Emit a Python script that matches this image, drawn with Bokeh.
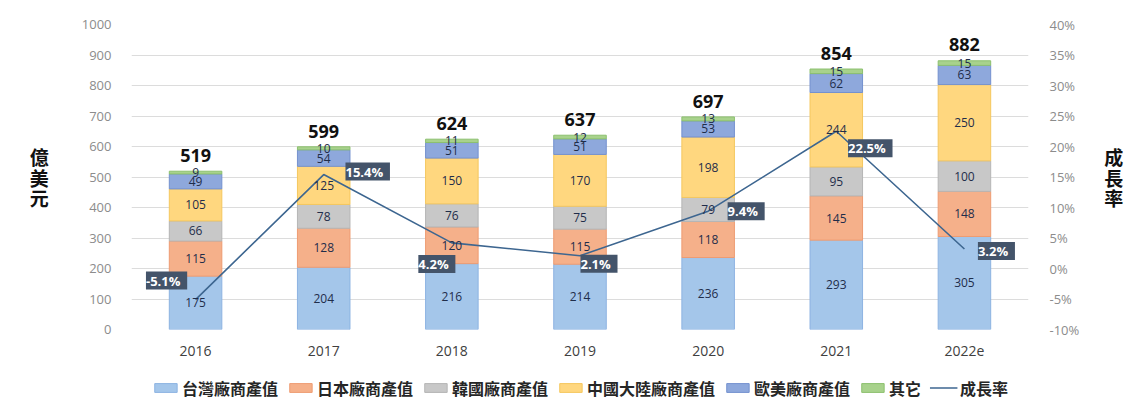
import numpy as np
from bokeh.plotting import figure
from bokeh.layouts import column
from bokeh.models import (ColumnDataSource, Range1d, LinearAxis, LabelSet,
                          Legend, LegendItem, PrintfTickFormatter, FixedTicker)
from bokeh.core.properties import value
from bokeh.embed import file_html
from bokeh.resources import INLINE

years = ["2016", "2017", "2018", "2019", "2020", "2021", "2022e"]
taiwan = [175, 204, 216, 214, 236, 293, 305]
japan = [115, 128, 120, 115, 118, 145, 148]
korea = [66, 78, 76, 75, 79, 95, 100]
china = [105, 125, 150, 170, 198, 244, 250]
euus = [49, 54, 51, 51, 53, 62, 63]
other = [9, 10, 11, 12, 13, 15, 15]
totals = [519, 599, 624, 637, 697, 854, 882]
growth = [-5.1, 15.4, 4.2, 2.1, 9.4, 22.5, 3.2]

series_names = ["台灣廠商產值", "日本廠商產值", "韓國廠商產值", "中國大陸廠商產值", "歐美廠商產值", "其它"]
series_vals = [taiwan, japan, korea, china, euus, other]
colors = ["#A4C6EA", "#F5B08A", "#C8C8C8", "#FFD77F", "#8EA8DC", "#A8D28C"]
edge_colors = ["#8DB3E2", "#EE9C72", "#B5B5B5", "#F5C75E", "#7491CF", "#8CC06E"]
line_color = "#3D6690"

CJK = "Noto Sans CJK TC"
NUM = "Open Sans"

p = figure(x_range=years, y_range=Range1d(0, 1000), width=1133, height=370,
           output_backend="svg", toolbar_location=None,
           min_border_left=131, min_border_right=105, min_border_top=24, min_border_bottom=41)
p.outline_line_color = None
p.background_fill_color = "white"
p.border_fill_color = "white"

keys = ["s%d" % i for i in range(len(series_vals))]
data = {"x": years}
for k, v in zip(keys, series_vals):
    data[k] = v
src = ColumnDataSource(data)
renderers = p.vbar_stack(keys, x="x", width=0.41, source=src, fill_color=colors,
                         line_color=edge_colors, line_width=1)

# segment labels
arr = np.array(series_vals, dtype=float)
cum = np.cumsum(arr, axis=0)
for i, k in enumerate(keys):
    mids = cum[i] - arr[i] / 2.0
    s = ColumnDataSource(dict(x=years, y=mids, t=[str(v) for v in series_vals[i]]))
    p.add_layout(LabelSet(x="x", y="y", text="t", source=s, text_align="center",
                          text_baseline="middle", text_font_size="12px",
                          text_font=value(NUM), text_color="#1F2D4A"))

# totals
ts = ColumnDataSource(dict(x=years, y=totals, t=[str(v) for v in totals]))
p.add_layout(LabelSet(x="x", y="y", text="t", source=ts, text_align="center",
                      text_baseline="bottom", y_offset=9, text_font_size="18px",
                      text_font_style="bold", text_font=value(NUM), text_color="#111111"))

# growth line on right axis
p.extra_y_ranges = {"right": Range1d(-10, 40)}
gl = p.line(x=years, y=growth, y_range_name="right", line_color=line_color, line_width=1.6)

gx_off = [-29, 44, -15, 19, 38, 34, 32]
gy_off = [19, 3, -21, -8, 0, -17, -2]
gs = ColumnDataSource(dict(x=years, y=growth, t=[" %.1f%% " % g for g in growth],
                           xo=gx_off, yo=gy_off))
p.add_layout(LabelSet(x="x", y="y", text="t", source=gs, y_range_name="right",
                      x_offset="xo", y_offset="yo", text_align="center",
                      text_baseline="middle", text_font_size="13px", text_font_style="bold",
                      text_font=value(NUM), text_color="white",
                      background_fill_color="#44546A", background_fill_alpha=1.0))

# axes
p.yaxis.ticker = FixedTicker(ticks=list(range(0, 1001, 100)))
p.yaxis.axis_line_color = None
p.yaxis.major_tick_line_color = None
p.yaxis.minor_tick_line_color = None
p.yaxis.major_label_text_color = "#8C8C8C"
p.yaxis.major_label_text_font_size = "13px"
p.yaxis.major_label_text_font = NUM
p.yaxis.major_label_standoff = 14
p.yaxis.axis_label = "億\n美\n元"
p.yaxis.axis_label_orientation = "horizontal"
p.yaxis.axis_label_text_font = CJK
p.yaxis.axis_label_text_font_size = "19px"
p.yaxis.axis_label_text_font_style = "bold"
p.yaxis.axis_label_text_color = "#111111"
p.yaxis.axis_label_standoff = 30
p.yaxis.axis_label_text_line_height = 0.75
p.ygrid.ticker = FixedTicker(ticks=list(range(0, 1001, 100)))
p.ygrid.grid_line_color = "#DCDCDC"
p.xgrid.grid_line_color = None

p.xaxis.axis_line_color = None
p.xaxis.major_tick_line_color = None
p.xaxis.major_label_text_color = "#404040"
p.xaxis.major_label_text_font_size = "14px"
p.xaxis.major_label_text_font = NUM
p.xaxis.major_label_standoff = 10

ra = LinearAxis(y_range_name="right", ticker=FixedTicker(ticks=list(range(-10, 41, 5))),
                formatter=PrintfTickFormatter(format="%d%%"))
ra.axis_line_color = None
ra.major_tick_line_color = None
ra.minor_tick_line_color = None
ra.major_label_text_color = "#8C8C8C"
ra.major_label_text_font_size = "13px"
ra.major_label_text_font = NUM
ra.major_label_standoff = 15
ra.axis_label = "成\n長\n率"
ra.axis_label_orientation = "horizontal"
ra.axis_label_text_font = CJK
ra.axis_label_text_font_size = "19px"
ra.axis_label_text_font_style = "bold"
ra.axis_label_text_color = "#111111"
ra.axis_label_standoff = 22
ra.axis_label_text_line_height = 0.75
p.add_layout(ra, "right")

# legend strip (separate small figure so the legend sits inside a frame)
lg = figure(width=1133, height=35, output_backend="svg", toolbar_location=None,
            x_axis_location=None, y_axis_location=None, x_range=(0, 1), y_range=(0, 1),
            min_border=0)
lg.outline_line_color = None
lg.grid.grid_line_color = None
dummy = []
for c, ec in zip(colors, edge_colors):
    dummy.append(lg.vbar(x=[-10], top=[-5], bottom=[-6], width=0.1, fill_color=c, line_color=ec))
dline = lg.line(x=[-10, -9], y=[-5, -5], line_color=line_color, line_width=1.6)
items = [LegendItem(label=n, renderers=[r]) for n, r in zip(series_names, dummy)]
items.append(LegendItem(label="成長率", renderers=[dline]))
legend = Legend(items=items, orientation="horizontal", location="center",
                label_text_font=CJK, label_text_font_size="16px", label_text_color="#262626",
                label_text_font_style="bold",
                glyph_width=28, glyph_height=11, spacing=8, label_standoff=3,
                border_line_color=None, background_fill_alpha=0, margin=0, padding=0)
lg.add_layout(legend, "center")

layout = column(p, lg, spacing=0)
open("out.html", "w").write(file_html(layout, INLINE))
